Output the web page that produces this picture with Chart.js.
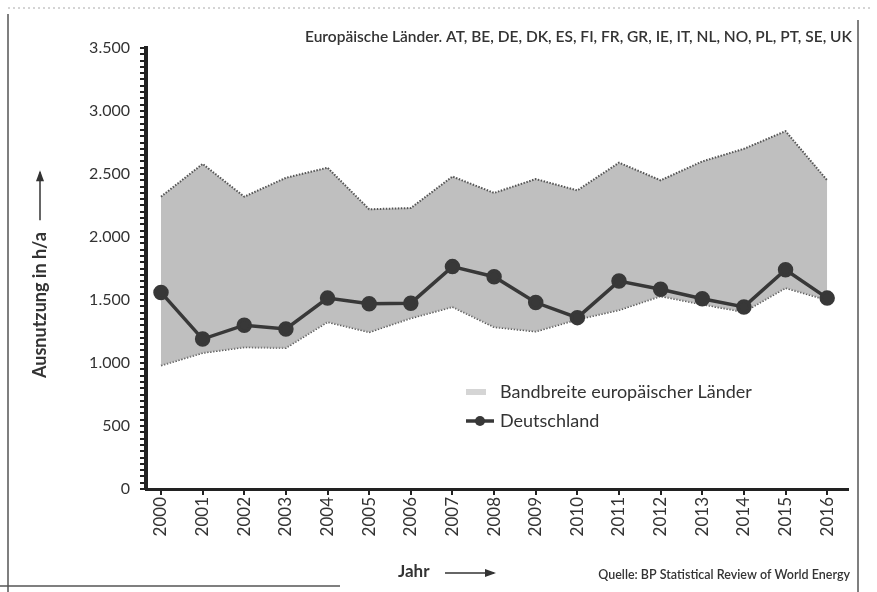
<!DOCTYPE html>
<html>
<head>
<meta charset="utf-8">
<script src="https://cdn.jsdelivr.net/npm/chart.js@4"></script>
<style>
  body { margin: 0; background: #fff; }
  #wrap { width: 877px; height: 592px; }
</style>
</head>
<body>
<div id="wrap"><canvas id="myChart" width="877" height="592"></canvas></div>
<script>
const years = [2000, 2001, 2002, 2003, 2004, 2005, 2006, 2007, 2008, 2009, 2010, 2011, 2012, 2013, 2014, 2015, 2016];
const bandUpper = [2320, 2580, 2320, 2470, 2550, 2220, 2230, 2480, 2350, 2460, 2370, 2590, 2450, 2600, 2700, 2840, 2450];
const bandLower = [980, 1080, 1125, 1120, 1325, 1245, 1355, 1445, 1285, 1250, 1345, 1420, 1530, 1465, 1405, 1595, 1500];
const germany = [1560, 1190, 1300, 1270, 1515, 1470, 1475, 1765, 1685, 1480, 1360, 1650, 1585, 1510, 1445, 1740, 1515];
const yTicks = [0, 500, 1000, 1500, 2000, 2500, 3000, 3500];

const topText = "Europäische Länder. AT, BE, DE, DK, ES, FI, FR, GR, IE, IT, NL, NO, PL, PT, SE, UK";
const yTitle = "Ausnutzung in h/a";
const xTitle = "Jahr";
const sourceText = "Quelle: BP Statistical Review of World Energy";

const fontFamily = "Lato, 'Noto Sans', sans-serif";
const textColor = "#333";

function toPoints(values) {
  return years.map((y, i) => ({ x: y, y: values[i] }));
}

function formatThousands(v) {
  return String(v).replace(/\B(?=(\d{3})+(?!\d))/g, ".");
}

function arrow(ctx, x1, y1, x2, y2) {
  ctx.beginPath();
  ctx.moveTo(x1, y1);
  ctx.lineTo(x2, y2);
  ctx.stroke();
  const ang = Math.atan2(y2 - y1, x2 - x1);
  ctx.beginPath();
  ctx.moveTo(x2 + 2 * Math.cos(ang), y2 + 2 * Math.sin(ang));
  ctx.lineTo(x2 - 9 * Math.cos(ang) + 4 * Math.sin(ang), y2 - 9 * Math.sin(ang) - 4 * Math.cos(ang));
  ctx.lineTo(x2 - 9 * Math.cos(ang) - 4 * Math.sin(ang), y2 - 9 * Math.sin(ang) + 4 * Math.cos(ang));
  ctx.closePath();
  ctx.fill();
}

const annotations = {
  id: "annotations",
  beforeDraw(chart) {
    const ctx = chart.ctx;
    ctx.save();
    ctx.fillStyle = "#fff";
    ctx.fillRect(0, 0, chart.width, chart.height);
    ctx.strokeStyle = "#555";
    ctx.lineWidth = 1.5;
    ctx.beginPath();
    ctx.moveTo(8, 14); ctx.lineTo(8, 592);
    ctx.moveTo(858, 20); ctx.lineTo(858, 592);
    ctx.moveTo(0, 586); ctx.lineTo(340, 586);
    ctx.stroke();
    ctx.strokeStyle = "#aaa";
    ctx.setLineDash([2, 3]);
    ctx.lineWidth = 1;
    ctx.beginPath();
    ctx.moveTo(8, 8); ctx.lineTo(870, 8);
    ctx.stroke();
    ctx.restore();
  },
  afterDraw(chart) {
    const ctx = chart.ctx;
    const ds = chart.data.datasets;
    ctx.save();
    ctx.fillStyle = textColor;
    ctx.strokeStyle = textColor;

    // top note
    ctx.font = "600 15.5px " + fontFamily;
    ctx.textAlign = "right";
    ctx.textBaseline = "middle";
    ctx.fillText(topText, 852, 37);

    // y axis title with arrow
    ctx.save();
    ctx.translate(40, 378);
    ctx.rotate(-Math.PI / 2);
    ctx.font = "bold 18px " + fontFamily;
    ctx.textAlign = "left";
    ctx.fillText(yTitle, 0, 0);
    const w = ctx.measureText(yTitle).width;
    ctx.lineWidth = 1.5;
    arrow(ctx, w + 12, 0, w + 60, 0);
    ctx.restore();

    // x axis title with arrow
    ctx.font = "bold 17px " + fontFamily;
    ctx.textAlign = "left";
    ctx.fillText(xTitle, 398, 572);
    ctx.lineWidth = 1.5;
    arrow(ctx, 445, 573, 494, 573);

    // source
    ctx.font = "600 12.5px " + fontFamily;
    ctx.textAlign = "right";
    ctx.fillText(sourceText, 850, 575);

    // legend
    ctx.font = "18px " + fontFamily;
    ctx.textAlign = "left";
    ctx.fillStyle = "rgba(185,185,185,0.6)";
    ctx.fillRect(466, 389, 20, 6);
    ctx.fillStyle = textColor;
    ctx.fillText(ds[1].label, 500, 392);

    ctx.strokeStyle = ds[0].borderColor;
    ctx.lineWidth = 3.5;
    ctx.beginPath();
    ctx.moveTo(466, 421); ctx.lineTo(494, 421);
    ctx.stroke();
    ctx.fillStyle = ds[0].pointBackgroundColor;
    ctx.beginPath();
    ctx.arc(480, 421, 5, 0, Math.PI * 2);
    ctx.fill();
    ctx.fillStyle = textColor;
    ctx.fillText(ds[0].label, 500, 421);
    ctx.restore();
  }
};

new Chart("myChart", {
  type: "line",
  data: {
    datasets: [
      {
        label: "Deutschland",
        data: toPoints(germany),
        borderColor: "#383838",
        borderWidth: 3.5,
        pointBackgroundColor: "#383838",
        pointBorderColor: "#383838",
        pointRadius: 6,
        fill: false,
        tension: 0
      },
      {
        label: "Bandbreite europäischer Länder",
        data: toPoints(bandUpper),
        borderColor: "#555",
        borderWidth: 2,
        borderDash: [1.5, 1.5],
        backgroundColor: "rgba(170,170,170,0.75)",
        pointRadius: 0,
        fill: "+1",
        tension: 0
      },
      {
        label: "Bandbreite unten",
        data: toPoints(bandLower),
        borderColor: "#555",
        borderWidth: 2,
        borderDash: [1.5, 1.5],
        pointRadius: 0,
        fill: false,
        tension: 0
      }
    ]
  },
  options: {
    responsive: false,
    animation: false,
    layout: { padding: { left: 0, top: 48, right: 29, bottom: 0 } },
    plugins: {
      legend: { display: false },
      tooltip: { enabled: false },
      filler: { propagate: false }
    },
    scales: {
      x: {
        type: "linear",
        min: 1999.64,
        max: 2016.5,
        afterFit(scale) { scale.height = 103; },
        border: { color: "#222", width: 3 },
        grid: { drawOnChartArea: false, drawTicks: true, tickLength: 6, color: "#222", lineWidth: 2 },
        ticks: {
          stepSize: 1,
          includeBounds: false,
          autoSkip: false,
          minRotation: 90,
          maxRotation: 90,
          padding: 2,
          color: textColor,
          font: { family: fontFamily, size: 17 },
          callback: (v) => years.includes(v) ? String(v) : ""
        }
      },
      y: {
        min: 0,
        max: 3500,
        afterFit(scale) { scale.width = 146; },
        border: { color: "#222", width: 4 },
        grid: { drawOnChartArea: false, drawTicks: true, tickLength: 6, color: "#222", lineWidth: 2 },
        ticks: {
          stepSize: 50,
          autoSkip: false,
          maxTicksLimit: 200,
          padding: 10,
          color: textColor,
          font: { family: fontFamily, size: 16 },
          callback: (v) => yTicks.includes(v) ? formatThousands(v) : ""
        }
      }
    }
  },
  plugins: [annotations]
});
</script>
</body>
</html>
